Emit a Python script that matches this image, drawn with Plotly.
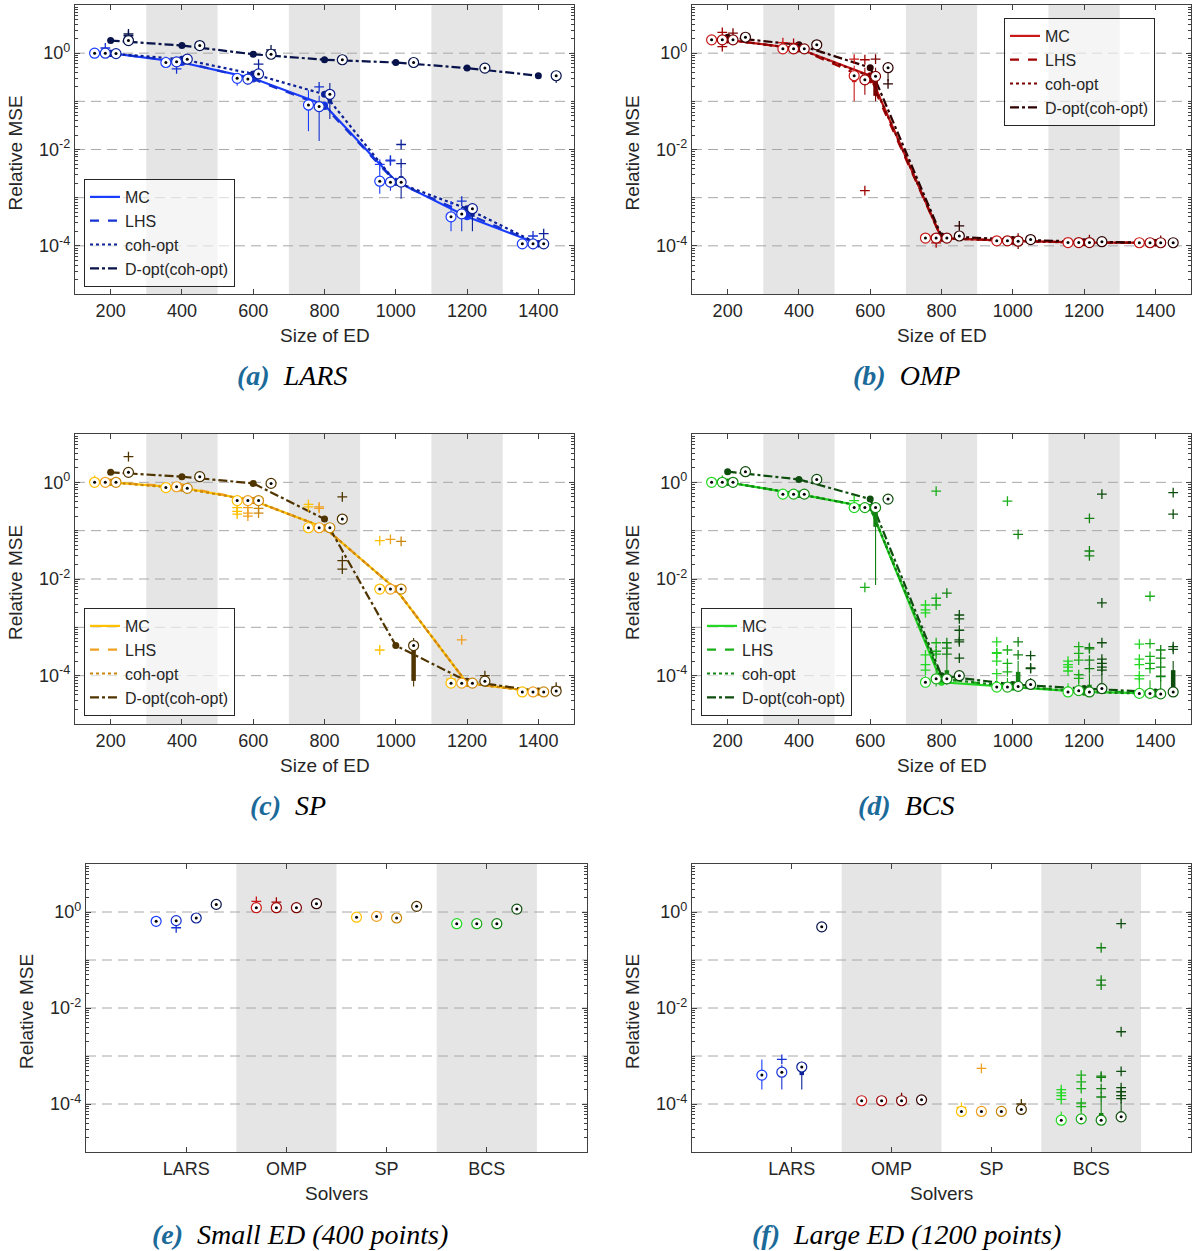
import plotly.graph_objects as go

# ---------------- data ----------------
ED_SIZES = [200, 400, 600, 800, 1000, 1200, 1400]
DESIGNS = ["MC", "LHS", "coh-opt", "D-opt(coh-opt)"]
SOLVERS = ["LARS", "OMP", "SP", "BCS"]
BAND_EDGES = [[300, 500], [700, 900], [1100, 1300]]
GRID_DECADES = [1e-4, 1e-3, 1e-2, 1e-1, 1e0]
SMALL_ED = 400
LARGE_ED = 1200

# LARS  (rows: MC, LHS, coh-opt, D-opt; columns: ED sizes)
LARS_MED = [[1.0, 0.64, 0.30, 0.084, 0.0022, 4.0e-4, 1.1e-4],
            [1.0, 0.66, 0.29, 0.078, 0.0021, 4.6e-4, 1.1e-4],
            [0.98, 0.75, 0.37, 0.14, 0.0021, 5.9e-4, 1.1e-4],
            [1.83, 1.44, 0.95, 0.73, 0.64, 0.49, 0.34]]
LARS_Q1 = [[0.97, 0.61, 0.28, 0.065, 0.0019, 3.6e-4, 1.05e-4],
           [0.96, 0.62, 0.27, 0.060, 0.0019, 3.8e-4, 1.05e-4],
           [0.96, 0.72, 0.33, 0.090, 0.0018, 4.0e-4, 1.05e-4],
           [1.78, 1.38, 0.92, 0.71, 0.62, 0.47, 0.33]]
LARS_Q3 = [[1.02, 0.67, 0.32, 0.11, 0.0026, 4.6e-4, 1.15e-4],
           [1.04, 0.70, 0.31, 0.10, 0.0024, 5.2e-4, 1.15e-4],
           [1.00, 0.78, 0.42, 0.16, 0.0028, 6.2e-4, 1.15e-4],
           [1.88, 1.50, 0.98, 0.75, 0.66, 0.51, 0.35]]
LARS_WLO = [[0.93, 0.53, 0.21, 0.024, 0.0012, 2.0e-4, 8.7e-5],
            [0.80, 0.55, 0.22, 0.015, 0.0014, 2.0e-4, 8.5e-5],
            [0.92, 0.68, 0.30, 0.043, 0.00095, 2.0e-4, 9.0e-5],
            [1.70, 1.17, 0.88, 0.68, 0.57, 0.44, 0.24]]
LARS_WHI = [[1.05, 0.70, 0.35, 0.17, 0.0040, 8.5e-4, 1.25e-4],
            [1.15, 0.75, 0.42, 0.13, 0.0030, 6.5e-4, 1.3e-4],
            [1.05, 0.82, 0.47, 0.24, 0.0040, 7.6e-4, 1.3e-4],
            [1.95, 1.74, 1.05, 0.78, 0.70, 0.55, 0.38]]
LARS_OUT = [[[], [], [], [], [0.0049], [], []],
            [[1.28], [0.47], [], [0.2], [0.006, 0.0058], [8.5e-4], [1.6e-4]],
            [[], [], [0.59], [], [0.0127, 0.0051], [], [1.8e-4]],
            [[2.5, 2.3], [], [1.17], [], [], [], []]]

# OMP
OMP_MED = [[1.89, 1.23, 0.34, 1.45e-4, 1.27e-4, 1.17e-4, 1.16e-4],
           [1.89, 1.23, 0.28, 1.45e-4, 1.27e-4, 1.17e-4, 1.16e-4],
           [1.89, 1.23, 0.33, 1.45e-4, 1.25e-4, 1.17e-4, 1.16e-4],
           [2.14, 1.49, 0.50, 1.60e-4, 1.35e-4, 1.22e-4, 1.16e-4]]
OMP_Q1 = [[1.80, 1.20, 0.25, 1.40e-4, 1.22e-4, 1.14e-4, 1.13e-4],
          [1.80, 1.20, 0.22, 1.40e-4, 1.22e-4, 1.14e-4, 1.13e-4],
          [1.85, 1.20, 0.13, 1.40e-4, 1.20e-4, 1.14e-4, 1.13e-4],
          [2.05, 1.42, 0.45, 1.55e-4, 1.30e-4, 1.19e-4, 1.13e-4]]
OMP_Q3 = [[1.95, 1.27, 0.42, 1.50e-4, 1.32e-4, 1.20e-4, 1.19e-4],
          [1.95, 1.27, 0.36, 1.50e-4, 1.32e-4, 1.20e-4, 1.19e-4],
          [1.95, 1.27, 0.36, 1.50e-4, 1.32e-4, 1.22e-4, 1.19e-4],
          [2.20, 1.55, 0.55, 1.65e-4, 1.40e-4, 1.26e-4, 1.19e-4]]
OMP_WLO = [[1.70, 1.15, 0.10, 1.35e-4, 1.15e-4, 1.10e-4, 1.10e-4],
           [1.60, 1.15, 0.137, 1.30e-4, 1.15e-4, 1.10e-4, 1.10e-4],
           [1.75, 1.15, 0.10, 1.35e-4, 1.10e-4, 1.10e-4, 1.10e-4],
           [1.95, 1.30, 0.26, 1.45e-4, 1.20e-4, 1.15e-4, 1.10e-4]]
OMP_WHI = [[2.05, 1.35, 0.55, 1.55e-4, 1.40e-4, 1.25e-4, 1.24e-4],
           [2.10, 1.35, 0.50, 1.55e-4, 1.40e-4, 1.25e-4, 1.24e-4],
           [2.05, 1.35, 0.50, 1.55e-4, 1.45e-4, 1.28e-4, 1.24e-4],
           [2.30, 1.70, 0.62, 1.80e-4, 1.50e-4, 1.30e-4, 1.24e-4]]
OMP_OUT = [[[], [1.66], [0.75], [], [], [], []],
           [[2.7, 1.37], [1.6], [0.73, 1.4e-3], [1.15e-4], [], [], []],
           [[2.6], [], [0.75], [], [1.45e-4, 1.08e-4], [1.35e-4], [1.3e-4]],
           [[], [], [0.23], [2.6e-4], [], [], []]]

# SP
SP_MED = [[1.0, 0.78, 0.42, 0.115, 0.0062, 7.0e-5, 4.6e-5],
          [1.0, 0.81, 0.42, 0.115, 0.0062, 7.0e-5, 4.6e-5],
          [1.0, 0.75, 0.42, 0.115, 0.0062, 7.0e-5, 4.6e-5],
          [1.61, 1.31, 0.95, 0.174, 4.2e-4, 7.7e-5, 4.8e-5]]
SP_Q1 = [[0.97, 0.75, 0.40, 0.110, 0.0058, 6.8e-5, 4.4e-5],
         [0.95, 0.78, 0.40, 0.110, 0.0058, 6.8e-5, 4.4e-5],
         [0.96, 0.72, 0.40, 0.110, 0.0058, 6.8e-5, 4.4e-5],
         [1.55, 1.25, 0.90, 0.165, 7.8e-5, 7.4e-5, 4.6e-5]]
SP_Q3 = [[1.05, 0.85, 0.44, 0.120, 0.0072, 7.4e-5, 4.8e-5],
         [1.03, 0.85, 0.44, 0.125, 0.0072, 7.4e-5, 4.8e-5],
         [1.03, 0.80, 0.44, 0.125, 0.0072, 7.4e-5, 4.8e-5],
         [1.66, 1.36, 1.00, 0.185, 4.2e-4, 8.5e-5, 5.0e-5]]
SP_WLO = [[0.95, 0.68, 0.36, 0.105, 0.0055, 6.5e-5, 4.2e-5],
          [0.90, 0.72, 0.37, 0.105, 0.0055, 6.5e-5, 4.2e-5],
          [0.92, 0.68, 0.37, 0.105, 0.0055, 6.5e-5, 4.2e-5],
          [1.50, 1.20, 0.85, 0.155, 6.0e-5, 7.0e-5, 4.4e-5]]
SP_WHI = [[1.10, 0.90, 0.46, 0.130, 0.0080, 8.0e-5, 5.0e-5],
          [1.08, 0.88, 0.46, 0.130, 0.0080, 8.0e-5, 5.0e-5],
          [1.06, 0.85, 0.46, 0.130, 0.0080, 8.0e-5, 5.0e-5],
          [1.70, 1.40, 1.05, 0.195, 6.0e-4, 9.5e-5, 5.3e-5]]
SP_OUT = [[[1.1], [], [0.30, 0.25, 0.22], [0.35, 0.31], [0.062, 3.4e-4], [8.5e-5], []],
          [[], [], [0.30, 0.23, 0.20], [0.31, 0.29], [0.066], [5.5e-4], []],
          [[], [], [0.29, 0.23], [], [0.060], [], []],
          [[3.4], [], [], [0.5, 0.024, 0.016], [], [1.0e-4], [5.8e-5]]]

# BCS
BCS_MED = [[1.0, 0.57, 0.30, 7.3e-5, 5.8e-5, 4.6e-5, 4.3e-5],
           [1.0, 0.57, 0.30, 8.6e-5, 5.8e-5, 4.9e-5, 4.3e-5],
           [1.0, 0.57, 0.30, 8.6e-5, 6.0e-5, 4.6e-5, 4.2e-5],
           [1.66, 1.15, 0.45, 1.0e-4, 6.6e-5, 5.4e-5, 4.6e-5]]
BCS_Q1 = [[0.95, 0.55, 0.28, 6.8e-5, 5.5e-5, 4.4e-5, 4.1e-5],
          [0.97, 0.55, 0.28, 7.5e-5, 5.5e-5, 4.6e-5, 4.1e-5],
          [0.97, 0.55, 0.12, 8.0e-5, 5.5e-5, 4.4e-5, 4.0e-5],
          [1.60, 1.10, 0.42, 9.5e-5, 6.2e-5, 5.0e-5, 4.4e-5]]
BCS_Q3 = [[1.03, 0.60, 0.32, 8.0e-5, 6.5e-5, 5.0e-5, 4.8e-5],
          [1.05, 0.60, 0.32, 1.05e-4, 6.5e-5, 5.6e-5, 5.0e-5],
          [1.03, 0.60, 0.30, 1.3e-4, 1.2e-4, 6.5e-5, 5.0e-5],
          [1.72, 1.20, 0.48, 1.1e-4, 7.5e-5, 7.0e-5, 1.3e-4]]
BCS_WLO = [[0.85, 0.50, 0.25, 6.0e-5, 5.0e-5, 4.2e-5, 3.9e-5],
           [0.90, 0.48, 0.25, 6.0e-5, 5.0e-5, 4.3e-5, 3.9e-5],
           [0.92, 0.52, 7.5e-3, 6.5e-5, 5.0e-5, 4.2e-5, 3.8e-5],
           [1.50, 1.05, 0.38, 8.0e-5, 5.5e-5, 4.5e-5, 4.0e-5]]
BCS_WHI = [[1.08, 0.62, 0.36, 1.0e-4, 9.0e-5, 7.0e-5, 7.0e-5],
           [1.10, 0.63, 0.35, 1.3e-4, 9.0e-5, 8.0e-5, 8.0e-5],
           [1.06, 0.62, 0.33, 2.2e-4, 2.0e-4, 1.1e-4, 8.0e-5],
           [1.80, 1.25, 0.52, 1.3e-4, 9.0e-5, 1.1e-4, 2.0e-4]]
BCS_OUT = [[[], [], [0.42], [2.9e-3, 2.3e-3, 2.0e-3, 2.7e-4, 1.7e-4, 1.3e-4],
            [5.0e-4, 3.0e-4, 2.9e-4, 2.0e-4, 1.1e-4], [2.0e-4, 1.7e-4, 1.5e-4, 1.25e-4],
            [4.5e-4, 2.2e-4, 1.7e-4, 1.0e-4, 8.6e-5]],
           [[1.1], [], [6.7e-3], [0.66, 4.0e-3, 2.9e-3, 4.8e-4, 3.2e-4, 2.8e-4],
            [0.41, 3.4e-4, 1.8e-4, 1.2e-4], [4.0e-4, 2.9e-4, 2.1e-4, 1.05e-4, 8.8e-5],
            [4.4e-3, 4.6e-4, 2.5e-4, 1.8e-4, 1.4e-4]],
           [[], [], [], [5.1e-3, 4.8e-4, 3.7e-4, 2.8e-4], [0.084, 5.0e-4, 2.7e-4],
            [0.18, 0.038, 0.030, 3.8e-4, 3.6e-4, 2.1e-4, 1.4e-4],
            [3.4e-4, 2.3e-4, 1.5e-4, 9.6e-5]],
           [[], [], [], [1.8e-3, 1.5e-3, 8.7e-4, 5.5e-4, 5.0e-4, 2.3e-4],
            [2.6e-4, 1.45e-4, 1.4e-4], [0.57, 3.2e-3, 4.8e-4, 2.2e-4, 1.8e-4, 1.5e-4, 1.3e-4],
            [0.61, 0.22, 4.0e-4, 3.5e-4]]]

CAPTIONS = ["(a)", "(b)", "(c)", "(d)", "(e)", "(f)"]
CAPTION_TEXT = ["LARS", "OMP", "SP", "BCS", "Small ED (400 points)", "Large ED (1200 points)"]

# ---------------- styles ----------------
COLORS = {
    "LARS": ["#1a3cff", "#1632d2", "#0c2196", "#07134a"],
    "OMP": ["#c81818", "#a00000", "#7a0000", "#2e0000"],
    "SP": ["#ffc000", "#f0a020", "#c8860a", "#4f3400"],
    "BCS": ["#22d822", "#1bae1b", "#128212", "#0d4d0d"],
}
DASHES = ["solid", "dash", "dot", "dashdot"]
OFFSETS = [-45, -15, 15, 50]
CAT_OFFSETS = [-0.3, -0.1, 0.1, 0.3]

DATA = {
    "LARS": (LARS_MED, LARS_Q1, LARS_Q3, LARS_WLO, LARS_WHI, LARS_OUT),
    "OMP": (OMP_MED, OMP_Q1, OMP_Q3, OMP_WLO, OMP_WHI, OMP_OUT),
    "SP": (SP_MED, SP_Q1, SP_Q3, SP_WLO, SP_WHI, SP_OUT),
    "BCS": (BCS_MED, BCS_Q1, BCS_Q3, BCS_WLO, BCS_WHI, BCS_OUT),
}

W, H = 1192, 1251
PANELS = [(75, 574, 5, 294), (692, 1191, 5, 294),
          (75, 574, 434, 724), (692, 1191, 434, 724),
          (86, 587, 864, 1152), (692, 1191, 864, 1152)]
AXCOL = "#404040"
FONT = "Liberation Sans, Arial, Helvetica, sans-serif"


def axname(letter, n):
    return letter if n == 1 else f"{letter}{n}"


fig = go.Figure()


def add_grid(xa, ya, xr):
    gx, gy = [], []
    for v in GRID_DECADES:
        gx += [xr[0], xr[1], None]
        gy += [v, v, None]
    fig.add_trace(go.Scatter(x=gx, y=gy, mode="lines",
                             line=dict(color="#a8a8a8", width=1, dash="10px,6px"),
                             xaxis=xa, yaxis=ya, showlegend=False, hoverinfo="skip"))


def add_box_group(xs, med, q1, q3, wlo, whi, outs, color, xa, ya):
    wx, wy, bx, by, ox, oy = [], [], [], [], [], []
    for x, a, b, c, d, o in zip(xs, wlo, whi, q1, q3, outs):
        wx += [x, x, None]
        wy += [a, b, None]
        bx += [x, x, None]
        by += [c, d, None]
        for v in o:
            ox.append(x)
            oy.append(v)
    common = dict(xaxis=xa, yaxis=ya, showlegend=False, hoverinfo="skip")
    fig.add_trace(go.Scatter(x=wx, y=wy, mode="lines", line=dict(color=color, width=1.1), **common))
    fig.add_trace(go.Scatter(x=bx, y=by, mode="lines", line=dict(color=color, width=4.5), **common))
    fig.add_trace(go.Scatter(x=ox, y=oy, mode="markers",
                             marker=dict(symbol="cross-thin", size=7, line=dict(color=color, width=1.3)),
                             **common))
    fig.add_trace(go.Scatter(x=xs, y=med, mode="markers",
                             marker=dict(symbol="circle", size=10, color="white", line=dict(color=color, width=1.2)),
                             **common))
    fig.add_trace(go.Scatter(x=xs, y=med, mode="markers",
                             marker=dict(symbol="circle", size=3, color="black"), **common))


# top four panels: convergence vs ED size
for p, solver in enumerate(SOLVERS):
    med, q1, q3, wlo, whi, outs = DATA[solver]
    xa, ya = axname("x", p + 1), axname("y", p + 1)
    add_grid(xa, ya, [100, 1500])
    cols = COLORS[solver]
    for d in range(4):
        fig.add_trace(go.Scatter(x=ED_SIZES, y=med[d], mode="lines+markers",
                                 line=dict(color=cols[d], width=2.2, dash=DASHES[d]),
                                 marker=dict(size=7, color=cols[d]),
                                 xaxis=xa, yaxis=ya, showlegend=False, hoverinfo="skip"))
    for d in range(4):
        xs = [n + OFFSETS[d] for n in ED_SIZES]
        add_box_group(xs, med[d], q1[d], q3[d], wlo[d], whi[d], outs[d], cols[d], xa, ya)
    legname = axname("legend", p + 1)
    for d in range(4):
        fig.add_trace(go.Scatter(x=[None], y=[None], mode="lines", name=DESIGNS[d],
                                 line=dict(color=cols[d], width=2.2, dash=DASHES[d]),
                                 xaxis=xa, yaxis=ya, legend=legname, showlegend=True))

# bottom two panels: solvers at a fixed ED size
for p, ed in [(4, SMALL_ED), (5, LARGE_ED)]:
    xa, ya = axname("x", p + 1), axname("y", p + 1)
    add_grid(xa, ya, [0, 5])
    k = ED_SIZES.index(ed)
    for s, solver in enumerate(SOLVERS):
        med, q1, q3, wlo, whi, outs = DATA[solver]
        for d in range(4):
            x = s + 1 + CAT_OFFSETS[d]
            add_box_group([x], [med[d][k]], [q1[d][k]], [q3[d][k]], [wlo[d][k]], [whi[d][k]],
                          [outs[d][k]], COLORS[solver][d], xa, ya)

# ---------------- layout ----------------
minor_vals = [m * 10.0 ** e for e in range(-5, 2) for m in range(1, 10)
              if not (m == 1 and e in (-4, -2, 0))]
layout = dict(width=W, height=H, margin=dict(l=0, r=0, t=0, b=0),
              paper_bgcolor="white", plot_bgcolor="white",
              font=dict(family=FONT, size=18, color="#262626"))
shapes = []
annotations = []
for i, (l, r, t, b) in enumerate(PANELS):
    n = i + 1
    xkey = axname("xaxis", n)
    ykey = axname("yaxis", n)
    top_row = i < 4
    xa = dict(domain=[l / W, r / W], anchor=axname("y", n), showgrid=False, zeroline=False,
              showline=True, linecolor=AXCOL, linewidth=1.2, mirror="ticks",
              ticks="inside", ticklen=5, tickcolor=AXCOL,
              tickfont=dict(size=18, color="#262626"))
    if top_row:
        xa.update(range=[100, 1500], tickvals=ED_SIZES, ticktext=[str(v) for v in ED_SIZES])
    else:
        xa.update(range=[0, 5], tickvals=[1, 2, 3, 4], ticktext=SOLVERS)
    ya = dict(domain=[1 - b / H, 1 - t / H], anchor=axname("x", n), type="log", range=[-5, 1],
              tickvals=[1e-4, 1e-2, 1e0],
              ticktext=["10<sup>-4</sup>", "10<sup>-2</sup>", "10<sup>0</sup>"],
              showgrid=False, zeroline=False, showline=True, linecolor=AXCOL, linewidth=1.2,
              mirror="ticks", ticks="inside", ticklen=5, tickcolor=AXCOL,
              tickfont=dict(size=18, color="#262626"),
              minor=dict(tickvals=minor_vals, ticks="inside", ticklen=3, tickcolor=AXCOL))
    layout[xkey] = xa
    layout[ykey] = ya
    # gray bands
    bands = BAND_EDGES if top_row else [[1.5, 2.5], [3.5, 4.5]]
    for x0, x1 in bands:
        shapes.append(dict(type="rect", xref=axname("x", n), yref=axname("y", n) + " domain",
                           x0=x0, x1=x1, y0=0, y1=1,
                           fillcolor="#e5e5e5", line=dict(width=0), layer="below"))
    # axis titles
    cx = (l + r) / 2
    annotations.append(dict(text="Size of ED" if top_row else "Solvers", xref="paper", yref="paper",
                            x=cx / W, y=1 - (b + 41) / H, showarrow=False, xanchor="center",
                            yanchor="middle", font=dict(size=19, family=FONT, color="#262626")))
    annotations.append(dict(text="Relative MSE", xref="paper", yref="paper", textangle=-90,
                            x=(l - 60) / W, y=1 - ((t + b) / 2 + 4) / H, showarrow=False,
                            xanchor="center", yanchor="middle",
                            font=dict(size=19, family=FONT, color="#262626")))

# captions
CAP_POS = [(292, 375), (906, 375), (288, 805), (906, 805), (300, 1234), (906, 1234)]
for (cx, cy), tag, txt in zip(CAP_POS, CAPTIONS, CAPTION_TEXT):
    annotations.append(dict(
        text=f'<b><i><span style="color:#1b6a99">{tag}</span></i></b>&nbsp; <i>{txt}</i>',
        xref="paper", yref="paper", x=cx / W, y=1 - cy / H, showarrow=False,
        xanchor="center", yanchor="middle",
        font=dict(size=28, family="Liberation Serif, DejaVu Serif, serif", color="black")))

layout["shapes"] = shapes
layout["annotations"] = annotations

# (x px, y px, anchor) for each legend
LEG_POS = [(84, 287, "bottom"), (1004, 18, "top"), (84, 716, "bottom"), (701, 716, "bottom")]
for p, (lx, ly, anc) in enumerate(LEG_POS):
    key = axname("legend", p + 1)
    layout[key] = dict(x=lx / W, y=1 - ly / H, xanchor="left", yanchor=anc,
                       bgcolor="rgba(255,255,255,0.6)", bordercolor="#262626", borderwidth=1,
                       font=dict(size=16, family=FONT, color="#262626"), tracegroupgap=0,
                       itemwidth=30)

fig.update_layout(**layout)
fig.write_html("out.html", config={"displayModeBar": False})

# remove default page margin so the figure sits at the window's top-left corner
with open("out.html", "r", encoding="utf-8") as fh:
    html = fh.read()
html = html.replace("<head>", "<head><style>html,body{margin:0;padding:0;}</style>", 1)
with open("out.html", "w", encoding="utf-8") as fh:
    fh.write(html)
